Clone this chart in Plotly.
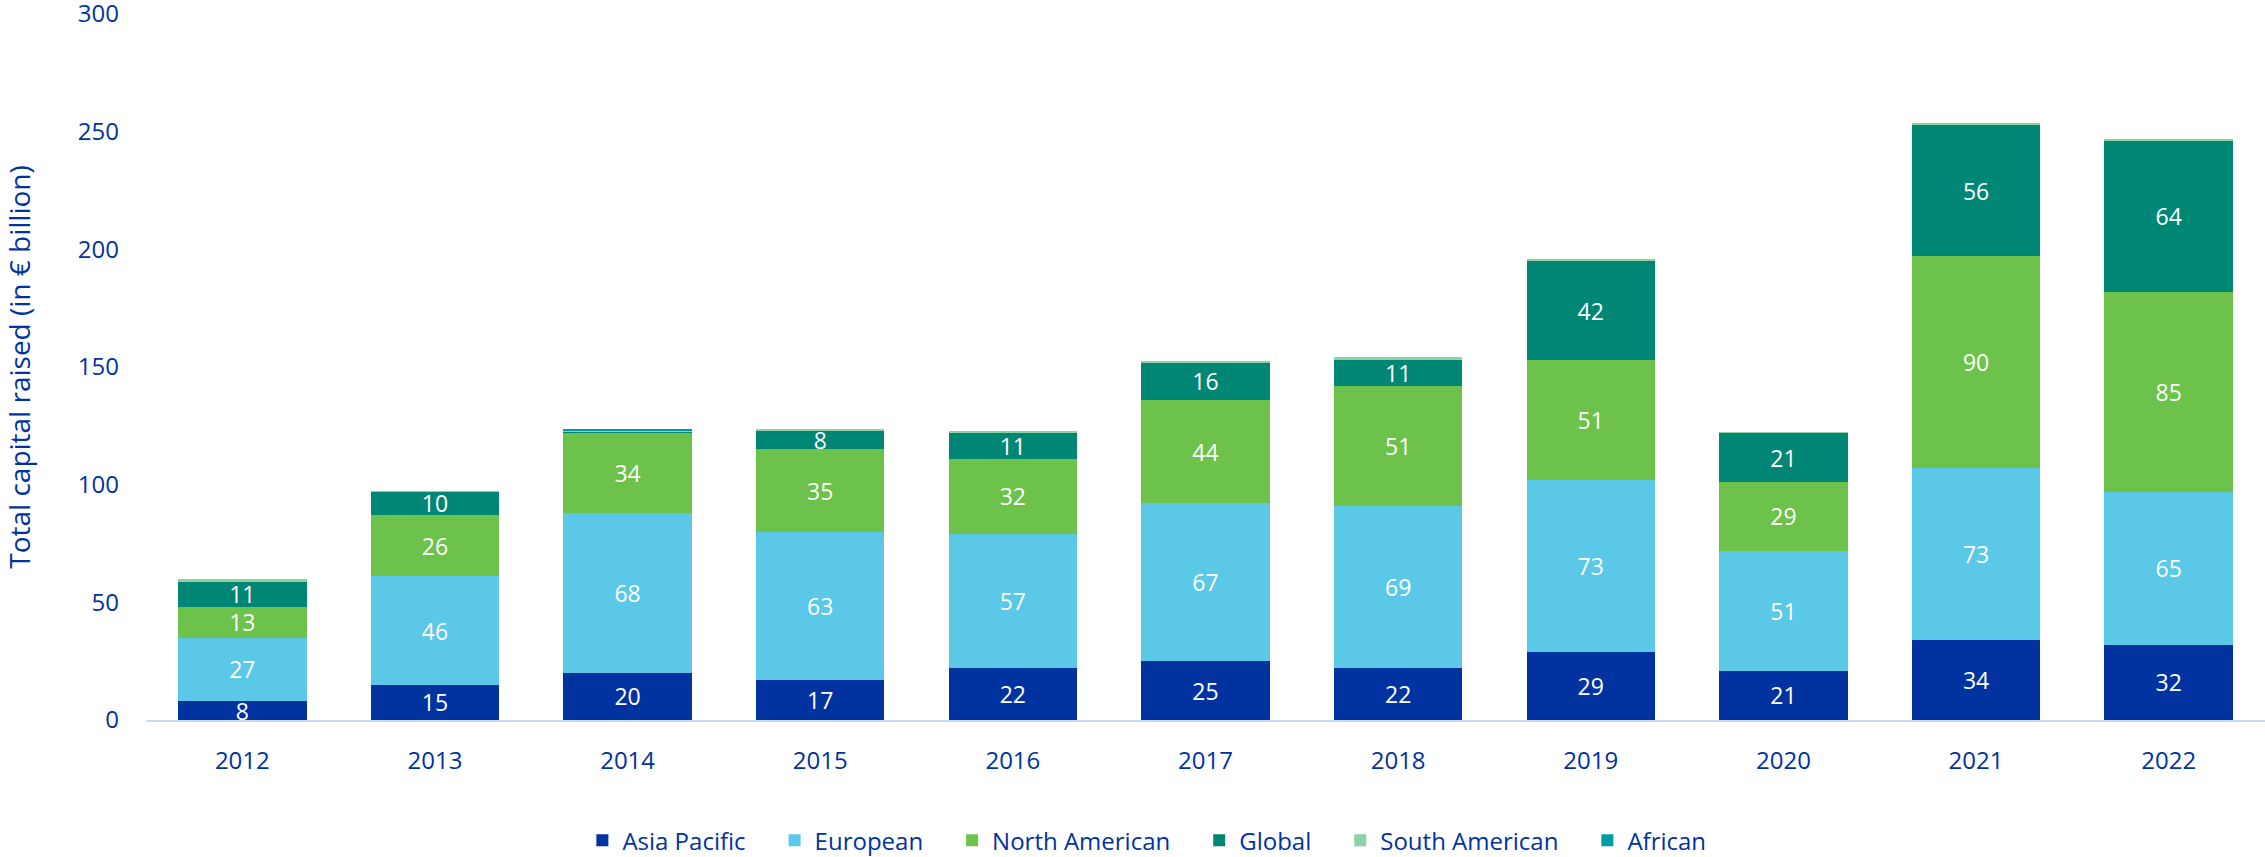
import plotly.graph_objects as go

years = ["2012", "2013", "2014", "2015", "2016", "2017", "2018", "2019", "2020", "2021", "2022"]
asia_pacific = [8, 15, 20, 17, 22, 25, 22, 29, 21, 34, 32]
european = [27, 46, 68, 63, 57, 67, 69, 73, 51, 73, 65]
north_american = [13, 26, 34, 35, 32, 44, 51, 51, 29, 90, 85]
global_ = [11, 10, 0.4, 8, 11, 16, 11, 42, 21, 56, 64]
south_american = [0.8, 0.3, 0.6, 0.8, 0.5, 0.3, 1.3, 1.0, 0.3, 0.8, 1.0]
african = [0, 0, 0.4, 0, 0, 0, 0, 0, 0, 0, 0]
y_ticks = [0, 50, 100, 150, 200, 250, 300]

series = [
    ("Asia Pacific", asia_pacific, "#0033A0", True),
    ("European", european, "#5BC8E8", True),
    ("North American", north_american, "#6CC24A", True),
    ("Global", global_, "#008674", True),
    ("South American", south_american, "#8DD3A6", False),
    ("African", african, "#009CA6", False),
]

TEXT_COLOR = "#0033A0"
PAD = "\u2002\u2002"

fig = go.Figure()
for name, vals, color, labelled in series:
    if labelled:
        txt = [str(int(round(v))) if v >= 3 else "" for v in vals]
    else:
        txt = ["" for _ in vals]
    fig.add_trace(go.Bar(
        x=years, y=vals, name=name + PAD,
        marker=dict(color=color, line=dict(width=0)),
        text=txt, textposition="inside", insidetextanchor="middle",
        textangle=0, constraintext="none",
        textfont=dict(color="white", size=23, family="Open Sans"),
        cliponaxis=False,
    ))

fig.update_layout(
    barmode="stack",
    bargap=0.333,
    width=2265, height=857,
    margin=dict(l=146, r=0, t=14, b=137, autoexpand=False),
    plot_bgcolor="white", paper_bgcolor="white",
    font=dict(family="Open Sans", color=TEXT_COLOR, size=24),
    legend=dict(
        orientation="h", x=0.478, xanchor="center", y=-0.171, yanchor="middle",
        font=dict(family="Open Sans", size=24, color=TEXT_COLOR),
        traceorder="normal",
        itemwidth=30,
    ),
    xaxis=dict(
        showgrid=False, showline=True, linecolor="#C9D9F5", linewidth=2,
        ticks="", tickfont=dict(size=24, color=TEXT_COLOR, family="Open Sans"),
        ticklabelstandoff=18, automargin=False,
    ),
    yaxis=dict(
        range=[0, 300], tickmode="array", tickvals=y_ticks,
        showgrid=False, zeroline=False, showline=False,
        ticks="", tickfont=dict(size=24, color=TEXT_COLOR, family="Open Sans"),
        ticklabelstandoff=26, automargin=False, ticklabeloverflow="allow",
        title=dict(text="Total capital raised (in € billion)",
                   font=dict(size=28, color=TEXT_COLOR, family="Open Sans"),
                   standoff=58),
    ),
)
fig.write_html(
    "out.html",
    config={"displayModeBar": False},
    post_script="document.body.style.margin='0';document.body.style.overflow='hidden';",
)
